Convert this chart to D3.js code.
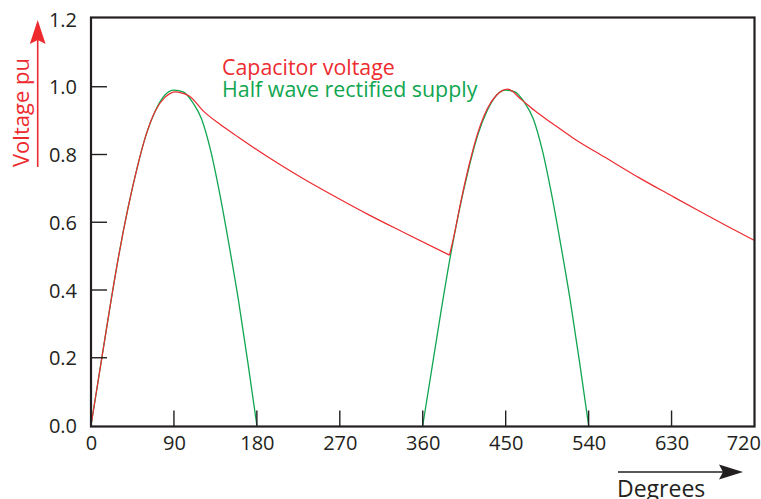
<!DOCTYPE html>
<html>
<head>
<meta charset="utf-8">
<script src="https://cdn.jsdelivr.net/npm/d3@7/dist/d3.min.js"></script>
<style>
  html, body { margin: 0; padding: 0; background: #fff; }
  svg { display: block; }
  text { font-family: "Open Sans", "Noto Sans", sans-serif; }
</style>
</head>
<body>
<svg id="chart" width="761" height="499"></svg>
<script>
// ---- data ----
const xTicks = [0, 90, 180, 270, 360, 450, 540, 630, 720];
const yTicks = [0.0, 0.2, 0.4, 0.6, 0.8, 1.0, 1.2];

// Half wave rectified supply, first hump
const supply1Deg = [0, 10, 20, 30, 40, 50, 60, 70, 80, 90, 100, 110, 120, 130, 140, 150, 160, 170, 180];
const supply1Val = [0, 0.17, 0.34, 0.50, 0.64, 0.76, 0.86, 0.93, 0.975, 0.99, 0.985, 0.955, 0.905, 0.81, 0.68, 0.53, 0.37, 0.19, 0];
// Half wave rectified supply, second hump
const supply2Deg = [360, 370, 380, 390, 400, 410, 420, 430, 440, 450, 460, 470, 480, 490, 500, 510, 520, 530, 540];
const supply2Val = [0, 0.17, 0.34, 0.50, 0.64, 0.76, 0.86, 0.93, 0.975, 0.99, 0.985, 0.955, 0.905, 0.81, 0.68, 0.53, 0.37, 0.19, 0];

// Capacitor voltage
const capDeg = [0, 10, 20, 30, 40, 50, 60, 70, 80, 92, 98, 107, 122, 140, 160, 190, 230, 274, 300, 340, 389,
                395, 400, 410, 420, 430, 440, 452, 467, 483, 500, 523, 560, 595, 630, 660, 690, 720];
const capVal = [0, 0.17, 0.34, 0.50, 0.64, 0.76, 0.86, 0.93, 0.968, 0.985, 0.982, 0.972, 0.928, 0.889, 0.851, 0.796, 0.729, 0.662, 0.624, 0.569, 0.503,
                0.574, 0.643, 0.766, 0.866, 0.935, 0.975, 0.993, 0.962, 0.926, 0.893, 0.849, 0.788, 0.731, 0.678, 0.633, 0.589, 0.546];

const legendLabels = ["Capacitor voltage", "Half wave rectified supply"];
const yTitle = "Voltage pu";
const xTitle = "Degrees";

// ---- styles ----
const RED = "#ed2b2f";
const GREEN = "#10a650";
const AXIS = "#231f20";

const svg = d3.select("#chart");
const x = d3.scaleLinear().domain([0, 720]).range([91, 754.5]);
const y = d3.scaleLinear().domain([0, 1.2]).range([425.5, 19]);

const line = d3.line().x(d => x(d[0])).y(d => y(d[1])).curve(d3.curveMonotoneX);
const zip = (a, b) => a.map((v, i) => [v, b[i]]);

// split capacitor series at its sharp local minima (diode turn-on points)
const capPts = zip(capDeg, capVal);
const capPieces = [];
let start = 0;
for (let i = 1; i < capPts.length - 1; i++) {
  if (capPts[i][1] < capPts[i - 1][1] && capPts[i][1] < capPts[i + 1][1]) {
    capPieces.push(capPts.slice(start, i + 1));
    start = i;
  }
}
capPieces.push(capPts.slice(start));

// curves
[zip(supply1Deg, supply1Val), zip(supply2Deg, supply2Val)].forEach(s => {
  svg.append("path").datum(s).attr("d", line)
    .attr("fill", "none").attr("stroke", GREEN).attr("stroke-width", 1.3);
});
capPieces.forEach(p => {
  svg.append("path").datum(p).attr("d", line)
    .attr("fill", "none").attr("stroke", RED).attr("stroke-width", 1.2)
    .attr("stroke-linejoin", "miter");
});

// frame
const x0 = x(0), x1 = x(720), yb = y(0) + 1, yt = 17.5;
svg.append("rect").attr("x", x0).attr("y", yt).attr("width", x1 - x0).attr("height", yb - yt)
  .attr("fill", "none").attr("stroke", AXIS).attr("stroke-width", 2.2);

// x axis (ticks inside)
const xAxis = d3.axisBottom(x).tickValues(xTicks).tickSize(0).tickPadding(0).tickFormat(d3.format("d"));
const gx = svg.append("g").attr("transform", `translate(0,${yb})`).call(xAxis);
gx.select(".domain").remove();
gx.selectAll("text").attr("font-size", 20).attr("fill", AXIS).attr("dy", 0).attr("y", 23)
  .attr("font-family", null)
  .attr("text-anchor", d => d === 720 ? "end" : "middle")
  .attr("x", d => d === 720 ? 6 : 0);
svg.append("g").selectAll("line").data(xTicks.filter(d => d > 0 && d < 720)).join("line")
  .attr("x1", d => x(d)).attr("x2", d => x(d)).attr("y1", yb).attr("y2", yb - 16)
  .attr("stroke", AXIS).attr("stroke-width", 1.4);

// y axis
const yAxis = d3.axisLeft(y).tickValues(yTicks).tickSize(0).tickPadding(14).tickFormat(d3.format(".1f"));
const gy = svg.append("g").attr("transform", `translate(${x0},0)`).call(yAxis);
gy.select(".domain").remove();
gy.selectAll("text").attr("font-size", 20).attr("fill", AXIS).attr("dy", "0.36em").attr("font-family", null);
svg.append("g").selectAll("line").data(yTicks.filter(d => d > 0 && d < 1.2)).join("line")
  .attr("x1", x0).attr("x2", x0 + 16).attr("y1", d => y(d)).attr("y2", d => y(d))
  .attr("stroke", AXIS).attr("stroke-width", 1.4);

// legend
svg.append("text").attr("x", 222).attr("y", 75).attr("font-size", 21.4).attr("fill", RED).text(legendLabels[0]);
svg.append("text").attr("x", 222).attr("y", 97).attr("font-size", 21.4).attr("fill", GREEN).text(legendLabels[1]);

// y title with arrow
svg.append("text").attr("transform", "translate(28.5,167) rotate(-90)")
  .attr("font-size", 22).attr("fill", RED).text(yTitle);
svg.append("line").attr("x1", 37.7).attr("x2", 37.7).attr("y1", 167).attr("y2", 38)
  .attr("stroke", RED).attr("stroke-width", 1.6);
svg.append("path").attr("d", "M37.7,20 L45.6,44 L37.7,40 L29.8,44 Z").attr("fill", RED);

// x title with arrow
svg.append("line").attr("x1", 618).attr("x2", 726).attr("y1", 472).attr("y2", 472)
  .attr("stroke", AXIS).attr("stroke-width", 1.6);
svg.append("path").attr("d", "M743,472 L719,464.5 L723,472 L719,479.5 Z").attr("fill", AXIS);
svg.append("text").attr("x", 617).attr("y", 497).attr("font-size", 23).attr("fill", AXIS).text(xTitle);
</script>
</body>
</html>
